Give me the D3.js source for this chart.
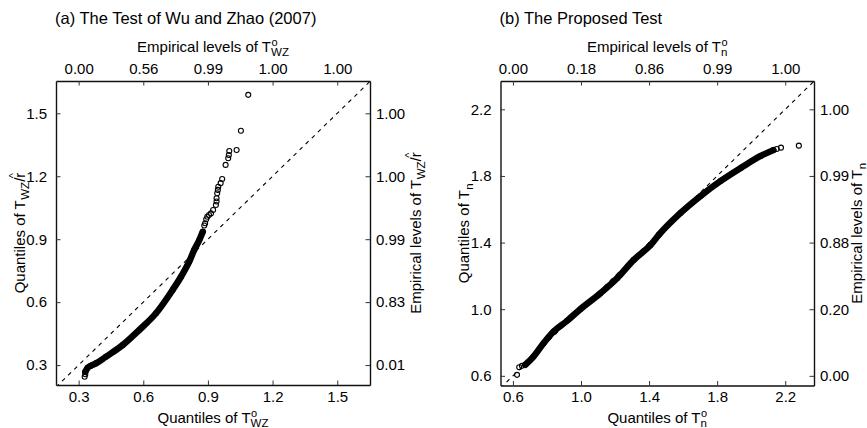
<!DOCTYPE html>
<html>
<head>
<meta charset="utf-8">
<script src="https://cdn.jsdelivr.net/npm/d3@7"></script>
<style>
  body { margin: 0; background: white; }
  svg { font-family: "Liberation Sans", Arial, sans-serif; }
  text { fill: #000; }
</style>
</head>
<body>
<svg></svg>
<script>
// ticks and the "empirical level" labels of the second axes
let aTicks = [0.3, 0.6, 0.9, 1.2, 1.5];
let aTopLabels = ['0.00', '0.56', '0.99', '1.00', '1.00'];
let aRightTicks = [1.5, 1.2, 0.9, 0.6, 0.3];
let aRightLabels = ['1.00', '1.00', '0.99', '0.83', '0.01'];

let bTicks = [0.6, 1.0, 1.4, 1.8, 2.2];
let bTopLabels = ['0.00', '0.18', '0.86', '0.99', '1.00'];
let bRightTicks = [2.2, 1.8, 1.4, 1.0, 0.6];
let bRightLabels = ['1.00', '0.99', '0.88', '0.20', '0.00'];

// (a) dense part of the qq curve
let aBandX = [0.331, 0.342, 0.357, 0.380, 0.427, 0.504, 0.581, 0.659, 0.736, 0.775, 0.813, 0.836, 0.860, 0.876];
let aBandY = [0.268, 0.287, 0.297, 0.308, 0.340, 0.395, 0.467, 0.547, 0.658, 0.721, 0.793, 0.848, 0.896, 0.935];
// (a) single circles
let aPointX = [0.328, 0.331, 0.883, 0.887, 0.892, 0.897, 0.905, 0.914, 0.924, 0.937, 0.940, 0.940, 0.943, 0.946, 0.948, 0.959, 0.966, 0.982, 0.994, 0.997, 0.999, 1.033, 1.053, 1.087];
let aPointY = [0.244, 0.256, 0.965, 0.976, 0.995, 1.007, 1.015, 1.023, 1.039, 1.063, 1.080, 1.095, 1.119, 1.135, 1.150, 1.167, 1.187, 1.254, 1.286, 1.301, 1.320, 1.325, 1.417, 1.588];

// (b) dense part of the qq curve
let bBandX = [0.672, 0.721, 0.780, 0.839, 0.918, 0.996, 1.114, 1.212, 1.310, 1.409, 1.457, 1.585, 1.703, 1.821, 1.939, 2.056, 2.130];
let bBandY = [0.666, 0.716, 0.796, 0.866, 0.930, 1.000, 1.096, 1.186, 1.296, 1.386, 1.446, 1.578, 1.680, 1.770, 1.848, 1.920, 1.955];
// (b) single circles
let bPointX = [0.624, 0.637, 0.653, 2.150, 2.175, 2.280];
let bPointY = [0.606, 0.652, 0.660, 1.962, 1.970, 1.982];

let width = 867;
let height = 428;

let svg = d3.select('svg')
    .attr('width', width)
    .attr('height', height);

// writes T with optional superscript "o", a subscript and an optional "/r^" tail
let addLabel = (text, pre, sub, sup, hat) => {
    text.append('tspan').text(pre + 'T');
    if (sup) {
        text.append('tspan').attr('font-size', 11).attr('dy', -6).attr('dx', 0.5).text('o');
        text.append('tspan').attr('font-size', 11.5).attr('dy', 10).attr('dx', -6.6).text(sub);
    } else {
        text.append('tspan').attr('font-size', 11.5).attr('dy', 4).attr('dx', 0.5).text(sub);
    }
    if (hat) {
        text.append('tspan').attr('dy', -4).text('/r');
        text.append('tspan').attr('font-size', 11).attr('dy', -8).attr('dx', -5.5).text('^');
    }
}

let drawPanel = (p) => {
    let xScale = d3.scaleLinear().domain(p.xDomain).range([p.left, p.right]);
    let yScale = d3.scaleLinear().domain(p.yDomain).range([p.bottom, p.top]);

    let g = svg.append('g');

    g.append('text')
        .attr('x', p.left - 1)
        .attr('y', 23.5)
        .attr('font-size', 16.5)
        .text(p.title);

    let clipId = 'clip' + p.id;
    g.append('clipPath').attr('id', clipId)
        .append('rect')
        .attr('x', p.left).attr('y', p.top)
        .attr('width', p.right - p.left).attr('height', p.bottom - p.top);

    let lo = Math.min(p.xDomain[0], p.yDomain[0]);
    let hi = Math.max(p.xDomain[1], p.yDomain[1]);
    let line = d3.line().x(d => xScale(d[0])).y(d => yScale(d[1]));

    g.append('path')
        .attr('clip-path', 'url(#' + clipId + ')')
        .attr('d', line([[lo, lo], [hi, hi]]))
        .attr('fill', 'none')
        .attr('stroke', '#000')
        .attr('stroke-width', 1.1)
        .attr('stroke-dasharray', '4,4.5');

    let band = p.bandX.map((x, i) => [x, p.bandY[i]]);
    g.append('path')
        .attr('d', line.curve(d3.curveMonotoneX)(band))
        .attr('fill', 'none')
        .attr('stroke', '#000')
        .attr('stroke-width', 6.5)
        .attr('stroke-linecap', 'round')
        .attr('stroke-linejoin', 'round');

    let pts = p.pointX.map((x, i) => [x, p.pointY[i]]);
    g.selectAll('circle.pt' + p.id)
        .data(pts.concat(band))
        .enter()
        .append('circle')
        .attr('cx', d => xScale(d[0]))
        .attr('cy', d => yScale(d[1]))
        .attr('r', 2.5)
        .attr('fill', 'none')
        .attr('stroke', '#000')
        .attr('stroke-width', 1.1);

    // axes with inward ticks
    let bottomAxis = d3.axisBottom(xScale).tickValues(p.ticks).tickSizeInner(-4.5).tickSizeOuter(0).tickFormat(d3.format('.1f'));
    let topAxis = d3.axisTop(xScale).tickValues(p.ticks).tickSizeInner(-4.5).tickSizeOuter(0).tickFormat((d, i) => p.topLabels[i]);
    let leftAxis = d3.axisLeft(yScale).tickValues(p.ticks).tickSizeInner(-4.5).tickSizeOuter(0).tickFormat(d3.format('.1f'));
    let rightAxis = d3.axisRight(yScale).tickValues(p.rightTicks).tickSizeInner(-4.5).tickSizeOuter(0).tickFormat((d, i) => p.rightLabels[i]);

    let styleAxis = (sel) => {
        sel.select('.domain').attr('stroke', '#111').attr('stroke-width', 1.4);
        sel.selectAll('.tick line').attr('stroke', '#333').attr('stroke-width', 1);
        sel.selectAll('.tick text').attr('font-size', 15).attr('fill', '#000')
            .attr('font-family', '"Liberation Sans", Arial, sans-serif');
    }

    let bx = g.append('g').attr('transform', 'translate(0,' + p.bottom + ')').call(bottomAxis).call(styleAxis);
    bx.selectAll('.tick text').attr('y', 6).attr('dy', '0.71em');
    let tx = g.append('g').attr('transform', 'translate(0,' + p.top + ')').call(topAxis).call(styleAxis);
    tx.selectAll('.tick text').attr('y', -7);
    let lx = g.append('g').attr('transform', 'translate(' + p.left + ',0)').call(leftAxis).call(styleAxis);
    lx.selectAll('.tick text').attr('x', -9);
    let rx = g.append('g').attr('transform', 'translate(' + p.right + ',0)').call(rightAxis).call(styleAxis);
    rx.selectAll('.tick text').attr('x', 6);

    let cx = (p.left + p.right) / 2;
    let cy = (p.top + p.bottom) / 2;

    let topTitle = g.append('text').attr('x', cx).attr('y', 52).attr('font-size', 15).attr('text-anchor', 'middle');
    addLabel(topTitle, 'Empirical levels of ', p.sub, true, false);

    let bottomTitle = g.append('text').attr('x', cx).attr('y', 422.5).attr('font-size', 15).attr('text-anchor', 'middle');
    addLabel(bottomTitle, 'Quantiles of ', p.sub, true, false);

    let leftTitle = g.append('text').attr('font-size', 15).attr('text-anchor', 'middle')
        .attr('transform', 'translate(' + p.leftTitleX + ',' + cy + ') rotate(-90)');
    addLabel(leftTitle, 'Quantiles of ', p.sub, false, p.hat);

    let rightTitle = g.append('text').attr('font-size', 15).attr('text-anchor', 'middle')
        .attr('transform', 'translate(' + p.rightTitleX + ',' + cy + ') rotate(-90)');
    addLabel(rightTitle, 'Empirical levels of ', p.sub, false, p.hat);
}

drawPanel({
    id: 'a', title: '(a) The Test of Wu and Zhao (2007)', sub: 'WZ', hat: true,
    left: 56, right: 370, top: 81, bottom: 385,
    xDomain: [0.195, 1.652], yDomain: [0.205, 1.654],
    ticks: aTicks, topLabels: aTopLabels, rightTicks: aRightTicks, rightLabels: aRightLabels,
    bandX: aBandX, bandY: aBandY, pointX: aPointX, pointY: aPointY,
    leftTitleX: 24.5, rightTitleX: 420.5
});

drawPanel({
    id: 'b', title: '(b) The Proposed Test', sub: 'n', hat: false,
    left: 500.5, right: 814, top: 81, bottom: 385.5,
    xDomain: [0.527, 2.369], yDomain: [0.542, 2.37],
    ticks: bTicks, topLabels: bTopLabels, rightTicks: bRightTicks, rightLabels: bRightLabels,
    bandX: bBandX, bandY: bBandY, pointX: bPointX, pointY: bPointY,
    leftTitleX: 469, rightTitleX: 862
});
</script>
</body>
</html>
